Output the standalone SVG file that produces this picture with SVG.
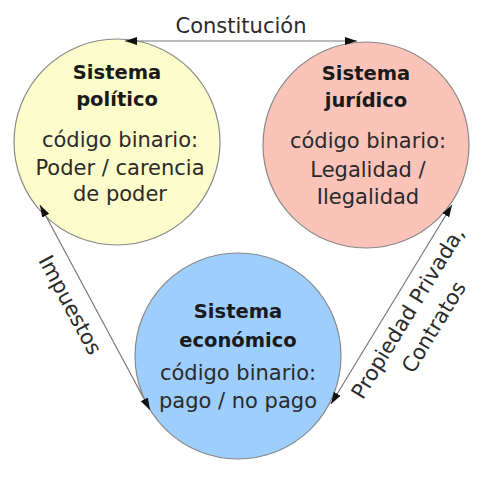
<svg xmlns="http://www.w3.org/2000/svg" width="492" height="480" viewBox="0 0 492 480">
<style>
.n{stroke:#888;stroke-width:1.2}
.t{font-family:"DejaVu Sans",sans-serif;font-size:21px;fill:#2a2a2a;text-anchor:middle}
.b{font-weight:bold;font-size:19.5px;fill:#1a1a1a}
.c{stroke:#777;stroke-width:1.2;fill:none;marker-start:url(#a);marker-end:url(#a)}
</style>
<defs>
<marker id="a" viewBox="0 0 12 10" refX="12" refY="5" markerWidth="12" markerHeight="10" markerUnits="userSpaceOnUse" orient="auto-start-reverse">
<path d="M0,1 L12,5 L0,9 Z" fill="#111"/>
</marker>
</defs>
<rect width="492" height="480" fill="#fff"/>
<g id="politico">
<circle class="n" cx="117" cy="142" r="103" fill="#fdfccb"/>
<text class="t b" x="117" y="79">Sistema</text>
<text class="t b" x="117" y="106">político</text>
<text class="t" x="120" y="147">código binario:</text>
<text class="t" x="120" y="175">Poder / carencia</text>
<text class="t" x="120" y="201">de poder</text>
</g>
<g id="juridico">
<circle class="n" cx="366" cy="145" r="103" fill="#fcc4b9"/>
<text class="t b" x="366" y="80">Sistema</text>
<text class="t b" x="366" y="107">jurídico</text>
<text class="t" x="368" y="148">código binario:</text>
<text class="t" x="368" y="177">Legalidad /</text>
<text class="t" x="368" y="204">Ilegalidad</text>
</g>
<g id="economico">
<circle class="n" cx="238" cy="356" r="103" fill="#9dcefc"/>
<text class="t b" x="238" y="318">Sistema</text>
<text class="t b" x="238" y="347">económico</text>
<text class="t" x="238" y="380">código binario:</text>
<text class="t" x="238" y="408">pago / no pago</text>
</g>
<g id="connectors">
<line class="c" x1="125" y1="41" x2="357" y2="41"/>
<line class="c" x1="40" y1="205" x2="150" y2="410"/>
<line class="c" x1="452" y1="205" x2="331" y2="404"/>
<text class="t" x="241" y="33">Constitución</text>
<text class="t" transform="translate(70,305) rotate(61.8)" y="7">Impuestos</text>
<text class="t" transform="translate(408,313) rotate(-58.6)" y="7">Propiedad Privada,</text>
<text class="t" transform="translate(434,327) rotate(-58.6)" y="7">Contratos</text>
</g>
</svg>
